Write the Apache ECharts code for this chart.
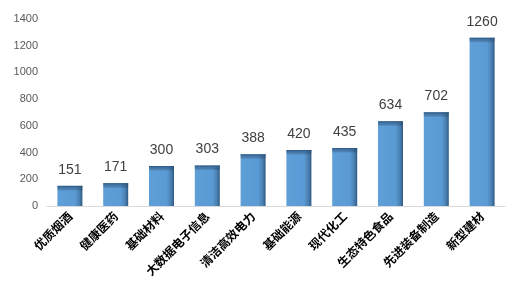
<!DOCTYPE html>
<html><head><meta charset="utf-8">
<script src="https://cdn.jsdelivr.net/npm/echarts@6/dist/echarts.min.js"></script>
<style>html,body{margin:0;padding:0;background:#fff}#c{width:522px;height:299px}</style>
</head><body><div id="c"></div>
<script>
const categories = ['优质烟酒','健康医药','基础材料','大数据电子信息','清洁高效电力','基础能源','现代化工','生态特色食品','先进装备制造','新型建材'];
const values = [151,171,300,303,388,420,435,634,702,1260];
const yTicks = [0,200,400,600,800,1000,1200,1400];

const plotH = 187, yMax = yTicks[yTicks.length-1];
function topShade(v){
  const px = v/yMax*plotH;
  const a = Math.min(1, 2/px), b = Math.min(1, 5/px);
  return new echarts.graphic.LinearGradient(0,0,0,1,[
    {offset:0,color:'rgba(35,70,110,0.85)'},{offset:a,color:'rgba(45,85,125,0.5)'},{offset:b,color:'rgba(0,0,0,0)'},{offset:1,color:'rgba(0,0,0,0)'}]);
}
const chart = echarts.init(document.getElementById('c'));
chart.setOption({
  animation:false,
  grid:{left:47,right:17,top:19,bottom:93},
  xAxis:{type:'category',data:categories,
    axisLine:{lineStyle:{color:'#d9d9d9',width:1}},axisTick:{show:false},
    axisLabel:{rotate:45,interval:0,margin:8,color:'#000',fontSize:12,fontWeight:'bold',fontFamily:'Noto Sans CJK SC'}},
  yAxis:{type:'value',min:yTicks[0],max:yMax,interval:200,
    splitLine:{show:false},axisLine:{show:false},axisTick:{show:false},
    axisLabel:{color:'#595959',fontSize:11,margin:9,fontFamily:'Liberation Sans',formatter:v=>String(v)}},
  series:[{type:'bar',data:values,barWidth:25,
    itemStyle:{color:new echarts.graphic.LinearGradient(0,0,1,0,[
      {offset:0,color:'#5f9fd8'},{offset:0.7,color:'#5b9bd5'},{offset:0.88,color:'#4a80b2'},{offset:1,color:'#2f5a82'}])},
    label:{show:true,position:'top',distance:9,color:'#404040',fontSize:14,fontFamily:'Liberation Sans'}},
   {type:'bar',data:values.map(v=>({value:v,itemStyle:{color:topShade(v)}})),barWidth:25,barGap:'-100%',silent:true,z:3,
    label:{show:false}}]
});
</script></body></html>
